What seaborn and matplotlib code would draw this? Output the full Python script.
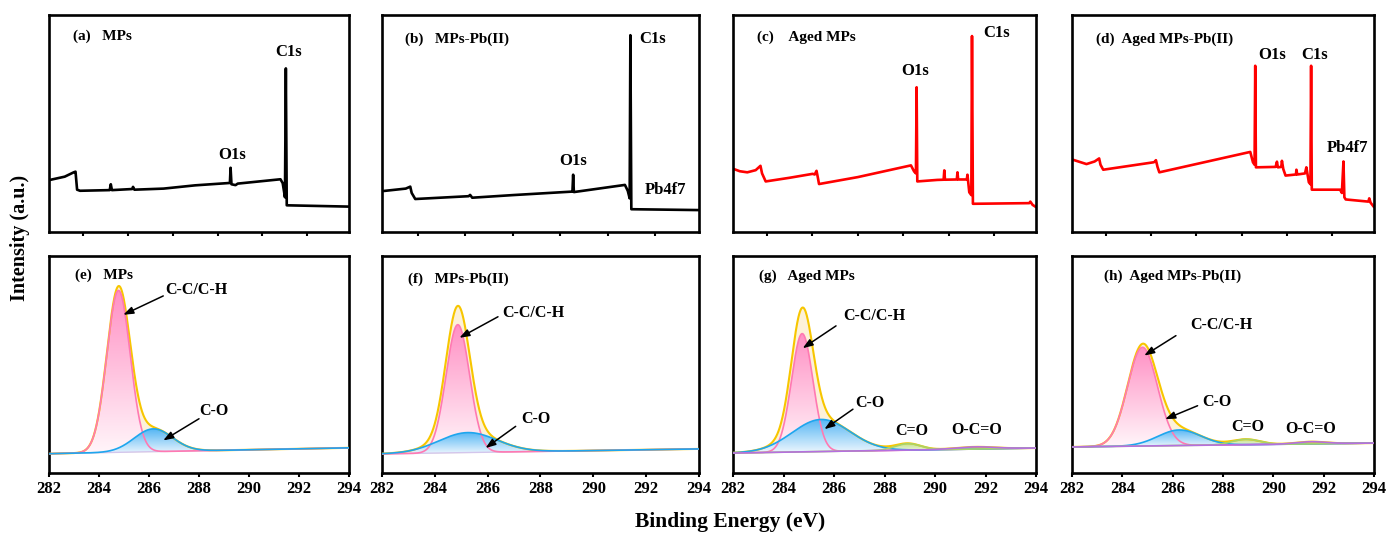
import numpy as np
import pandas as pd
import matplotlib
matplotlib.use("Agg")
import matplotlib.pyplot as plt
import seaborn as sns
from matplotlib.patches import PathPatch
from matplotlib.colors import to_rgb

sns.set_theme(style="white")
plt.rcParams["font.family"] = ["Liberation Serif", "DejaVu Serif"]
plt.rcParams["font.weight"] = "bold"
plt.rcParams["text.color"] = "black"
plt.rcParams["axes.labelcolor"] = "black"
plt.rcParams["xtick.color"] = "black"
plt.rcParams["ytick.color"] = "black"

# ---------------- survey spectra (top row) ----------------
a_x = [54, 120, 160, 168, 175, 188, 320, 325, 330, 420, 424, 430, 560, 700, 855, 858, 862, 880, 890, 1080, 1090, 1100, 1104, 1108, 1385]
a_y = [24.0, 25.5, 27.5, 27.8, 19.5, 19.0, 19.3, 22.0, 19.3, 19.8, 20.8, 19.5, 20.0, 21.5, 22.6, 29.6, 22.0, 21.6, 22.3, 24.3, 22.5, 16.0, 75.4, 12.3, 11.7]

b_x = [57, 150, 169, 175, 190, 415, 421, 430, 600, 848, 852, 855, 858, 1073, 1085, 1093, 1096, 1100, 1385]
b_y = [18.9, 20.0, 20.9, 18.0, 15.2, 16.5, 17.1, 15.8, 17.0, 18.6, 18.6, 26.4, 18.4, 21.7, 19.0, 15.5, 90.7, 10.5, 10.1]

c_x = [54, 80, 113, 150, 171, 178, 194, 300, 401, 410, 418, 424, 429, 600, 834, 848, 856, 859, 862, 950, 978, 981, 984, 1036, 1039, 1042, 1080, 1083, 1091, 1100, 1103, 1107, 1355, 1360, 1370, 1385]
c_y = [29.0, 28.0, 27.5, 28.5, 30.5, 27.0, 23.3, 25.0, 26.8, 26.5, 28.2, 25.0, 22.1, 25.3, 30.7, 27.9, 27.0, 66.7, 23.3, 24.0, 24.1, 28.4, 24.1, 24.2, 27.5, 24.2, 24.2, 26.4, 18.3, 17.0, 90.3, 13.0, 13.3, 14.0, 12.5, 11.5]

d_x = [54, 114, 150, 170, 176, 188, 409, 415, 421, 428, 436, 838, 850, 857, 860, 863, 950, 956, 960, 975, 978, 984, 994, 1040, 1042, 1046, 1080, 1086, 1097, 1104, 1107, 1110, 1235, 1243, 1250, 1254, 1260, 1360, 1364, 1370, 1385]
d_y = [33.3, 31.3, 32.5, 33.9, 31.0, 28.7, 32.1, 32.3, 33.1, 30.0, 27.5, 36.9, 32.1, 31.0, 76.6, 29.8, 30.0, 32.4, 29.8, 30.0, 32.8, 29.0, 26.0, 26.5, 28.7, 26.5, 27.0, 29.8, 22.9, 22.0, 76.6, 19.5, 19.5, 18.0, 32.5, 16.0, 15.0, 14.0, 15.5, 13.5, 11.5]

survey_x = [a_x, b_x, c_x, d_x]
survey_y = [a_y, b_y, c_y, d_y]
survey_colors = ["black", "black", "#FF0000", "#FF0000"]
survey_titles = ["(a)   MPs", "(b)   MPs-Pb(II)", "(c)    Aged MPs", "(d)  Aged MPs-Pb(II)"]
survey_title_pos = [(0.08, 0.90), (0.073, 0.89), (0.078, 0.897), (0.079, 0.889)]
survey_labels = [
    [("C1s", 0.80, 0.83), ("O1s", 0.61, 0.355)],
    [("C1s", 0.853, 0.89), ("O1s", 0.603, 0.326), ("Pb4f7", 0.895, 0.194)],
    [("C1s", 0.871, 0.916), ("O1s", 0.601, 0.742)],
    [("O1s", 0.664, 0.817), ("C1s", 0.803, 0.817), ("Pb4f7", 0.911, 0.385)],
]
survey_ticks = [200, 400, 600, 800, 1000, 1200]

# ---------------- C1s high-resolution fits (bottom row) ----------------
be_ticks = [282, 284, 286, 288, 290, 292, 294]
comp_names = ["C-C/C-H", "C-O", "C=O", "O-C=O"]
e_center = [284.78, 286.17]
e_height = [74.6, 10.5]
e_fwhm = [1.1, 1.8]
e_bg = [8.9, 11.6]
f_center = [284.87, 285.25]
f_height = [59.0, 9.2]
f_fwhm = [1.05, 2.6]
f_bg = [8.8, 11.1]
g_center = [284.74, 285.49, 288.93, 291.59]
g_height = [54.5, 14.8, 3.0, 1.0]
g_fwhm = [1.0, 2.7, 1.2, 1.8]
g_bg = [9.2, 11.5]
h_center = [284.80, 286.26, 288.91, 291.49]
h_height = [45.5, 7.2, 2.5, 1.0]
h_fwhm = [1.4, 2.0, 1.3, 1.4]
h_bg = [12.0, 13.8]

fits = [
    (e_center, e_height, e_fwhm, e_bg),
    (f_center, f_height, f_fwhm, f_bg),
    (g_center, g_height, g_fwhm, g_bg),
    (h_center, h_height, h_fwhm, h_bg),
]
fit_titles = ["(e)   MPs", "(f)   MPs-Pb(II)", "(g)   Aged MPs", "(h)  Aged MPs-Pb(II)"]
fit_title_pos = [(0.087, 0.913), (0.081, 0.892), (0.086, 0.905), (0.107, 0.908)]
fit_annot = [
    [("C-C/C-H", 287.9, 84.2, (286.57, 81.6), (284.97, 72.9)),
     ("C-O", 288.61, 28.8, (288.0, 25.0), (286.57, 15.0))],
    [("C-C/C-H", 287.74, 73.8, (286.39, 72.0), (284.93, 62.3)),
     ("C-O", 287.84, 24.9, (287.06, 21.5), (285.92, 11.5))],
    [("C-C/C-H", 287.61, 72.4, (286.08, 67.8), (284.76, 57.5)),
     ("C-O", 287.44, 32.2, (286.75, 29.4), (285.62, 20.2)),
     ("C=O", 289.07, 19.2, None, None),
     ("O-C=O", 291.65, 19.6, None, None)],
    [("C-C/C-H", 287.95, 68.3, (286.13, 63.3), (284.87, 54.1)),
     ("C-O", 287.76, 32.7, (286.99, 31.0), (285.70, 24.8)),
     ("C=O", 289.0, 21.2, None, None),
     ("O-C=O", 291.49, 20.4, None, None)],
]
comp_line = ["#FF79B2", "#1EA6EE", "#A9D468", "#B56FE0"]
comp_top = ["#FF90C4", "#55B6F4", "#C2E08E", "#C79AEA"]
comp_bot = ["#FFF6FA", "#EEF7FE", "#F6FBEE", "#F8F2FD"]
env_line = "#F7C600"
env_fill = "#FDF1D8"
bg_line = "#D3C6EC"

W, H = 1388, 535
fig = plt.figure(figsize=(W / 100, H / 100), dpi=100)
cols = [(49, 349), (382, 699), (733, 1036), (1072, 1374)]
rows = [(15, 232), (256, 473)]


def make_ax(col, row):
    l, r = cols[col]
    t, b = rows[row]
    ax = fig.add_axes([l / W, 1 - b / H, (r - l) / W, (b - t) / H])
    for s in ax.spines.values():
        s.set_linewidth(1.9)
        s.set_color("black")
        s.set_visible(True)
    ax.set_facecolor("white")
    ax.set_yticks([])
    ax.tick_params(axis="x", direction="out", length=3, width=1.5, color="black",
                   bottom=True, labelsize=12, pad=3, labelcolor="black")
    return ax


def grad_fill(ax, x, y, base, ctop, cbot, z=2):
    t = np.array(to_rgb(ctop))
    b = np.array(to_rgb(cbot))
    f = np.linspace(0, 1, 256)[:, None]
    img = np.ones((256, 1, 4))
    img[:, 0, :3] = b + (t - b) * f
    ymin, ymax = float(np.min(base)), float(np.max(y))
    im = ax.imshow(img, extent=[x.min(), x.max(), ymin, ymax], origin="lower",
                   aspect="auto", zorder=z, interpolation="bilinear")
    poly = ax.fill_between(x, base, y, facecolor="none", edgecolor="none")
    patch = PathPatch(poly.get_paths()[0], transform=ax.transData,
                      facecolor="none", edgecolor="none")
    ax.add_patch(patch)
    im.set_clip_path(patch)


# top row
for i in range(4):
    ax = make_ax(i, 0)
    df = pd.DataFrame({"x": survey_x[i], "y": survey_y[i]})
    sns.lineplot(data=df, x="x", y="y", ax=ax, color=survey_colors[i], lw=1.9,
                 sort=False, estimator=None)
    ax.set_xlim(50, 1385)
    ax.set_ylim(0, 100)
    ax.set_xticks(survey_ticks)
    ax.set_xticklabels([])
    ax.set_xlabel("")
    ax.set_ylabel("")
    tx, ty = survey_title_pos[i]
    ax.text(tx, ty, survey_titles[i], transform=ax.transAxes, fontsize=11,
            fontweight="bold", ha="left", va="center")
    for txt, lx, ly in survey_labels[i]:
        ax.text(lx, ly, txt, transform=ax.transAxes, fontsize=12,
                fontweight="bold", ha="center", va="center")

# bottom row
xs = np.linspace(282, 294, 1200)
for i in range(4):
    ax = make_ax(i, 1)
    cen, hei, fw, bg = fits[i]
    base = np.interp(xs, [282, 294], bg)
    comps = []
    for c, h, w in zip(cen, hei, fw):
        comps.append(h * np.exp(-4 * np.log(2) * ((xs - c) / w) ** 2))
    env = base + np.sum(comps, axis=0)
    ax.fill_between(xs, base, env, color=env_fill, lw=0, zorder=1)
    for k, comp in enumerate(comps):
        grad_fill(ax, xs, base + comp, base, comp_top[k], comp_bot[k], z=2 + k)
    sns.lineplot(x=xs, y=base, ax=ax, color=bg_line, lw=1.0, zorder=6)
    sns.lineplot(x=xs, y=env, ax=ax, color=env_line, lw=1.5, zorder=7)
    for k, comp in enumerate(comps):
        sns.lineplot(x=xs, y=base + comp, ax=ax, color=comp_line[k], lw=1.2, zorder=8 + k)
    ax.set_xlim(282, 294)
    ax.set_ylim(0, 100)
    ax.set_xticks(be_ticks)
    ax.set_xticklabels([str(t) for t in be_ticks], fontweight="bold", fontsize=12)
    ax.set_xlabel("")
    ax.set_ylabel("")
    tx, ty = fit_title_pos[i]
    ax.text(tx, ty, fit_titles[i], transform=ax.transAxes, fontsize=11,
            fontweight="bold", ha="left", va="center")
    for txt, lx, ly, st, en in fit_annot[i]:
        ax.text(lx, ly, txt, fontsize=11.5, fontweight="bold", ha="center",
                va="center", zorder=20)
        if st is not None:
            ax.annotate("", xy=en, xytext=st, zorder=20,
                        arrowprops=dict(arrowstyle="-|>,head_length=0.5,head_width=0.18",
                                        color="black", lw=1.1, shrinkA=0, shrinkB=0))

fig.text(20 / W, 1 - 238 / H, "Intensity (a.u.)", rotation=90, fontsize=14.5,
         fontweight="bold", ha="center", va="center")
fig.text(730 / W, 1 - 522 / H, "Binding Energy (eV)", fontsize=15.5,
         fontweight="bold", ha="center", va="center")

fig.savefig("out.png", dpi=100, facecolor="white")
